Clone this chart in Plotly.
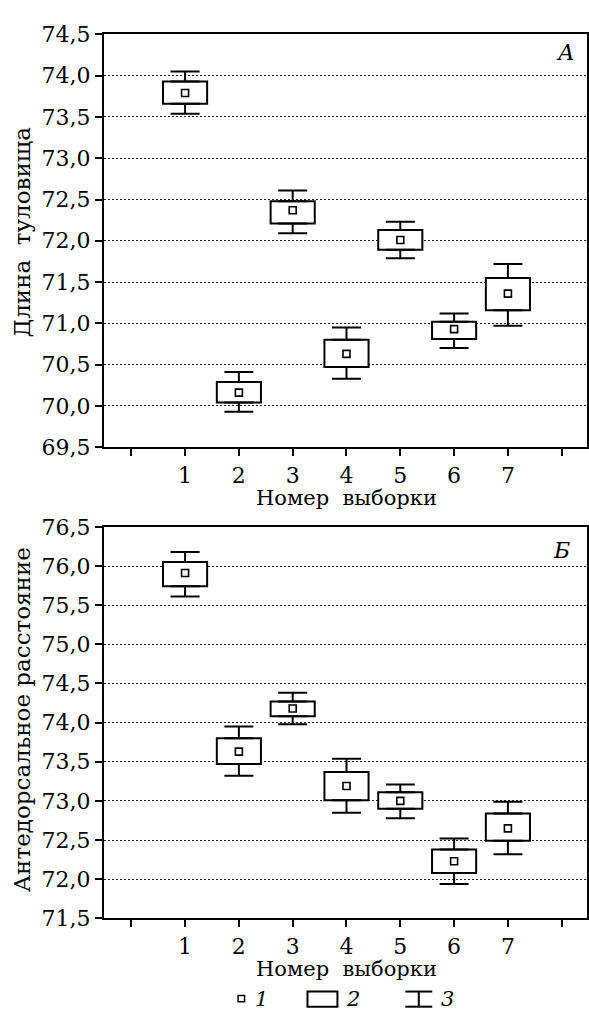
import plotly.graph_objects as go

W, H = 589, 1027

samples = [1, 2, 3, 4, 5, 6, 7]
x_tickvals = [0, 1, 2, 3, 4, 5, 6, 7, 8]
x_ticktext = ["", "1", "2", "3", "4", "5", "6", "7", ""]

# Panel А: Длина туловища
a_mean = [73.79, 70.16, 72.37, 70.63, 72.01, 70.93, 71.36]
a_box_low = [73.66, 70.04, 72.21, 70.47, 71.89, 70.81, 71.16]
a_box_high = [73.93, 70.29, 72.48, 70.80, 72.13, 71.02, 71.55]
a_whisk_low = [73.54, 69.93, 72.09, 70.33, 71.79, 70.70, 70.97]
a_whisk_high = [74.05, 70.41, 72.61, 70.95, 72.23, 71.12, 71.72]

# Panel Б: Антедорсальное расстояние
b_mean = [75.91, 73.63, 74.18, 73.19, 73.00, 72.23, 72.65]
b_box_low = [75.74, 73.47, 74.08, 73.01, 72.90, 72.08, 72.49]
b_box_high = [76.05, 73.80, 74.27, 73.37, 73.11, 72.38, 72.84]
b_whisk_low = [75.61, 73.32, 73.98, 72.85, 72.78, 71.94, 72.32]
b_whisk_high = [76.18, 73.95, 74.38, 73.54, 73.21, 72.52, 72.99]

FONT = "DejaVu Serif"


def px(x):
    return x / W


def py(y):
    return 1 - y / H


fig = go.Figure()

panels = [
    ("x", "y", a_mean, a_box_low, a_box_high, a_whisk_low, a_whisk_high),
    ("x2", "y2", b_mean, b_box_low, b_box_high, b_whisk_low, b_whisk_high),
]
zeros = [0] * len(samples)
for xa, ya, mean, blo, bhi, wlo, whi in panels:
    up = [h - b for h, b in zip(whi, bhi)]
    down = [b - l for b, l in zip(blo, wlo)]
    # upper whiskers
    fig.add_trace(go.Scatter(
        x=samples, y=bhi, mode="markers", marker=dict(size=1, opacity=0),
        error_y=dict(type="data", symmetric=False, array=up, arrayminus=zeros,
                     color="black", thickness=2, width=14.5),
        xaxis=xa, yaxis=ya, showlegend=False, hoverinfo="skip",
    ))
    # lower whiskers
    fig.add_trace(go.Scatter(
        x=samples, y=blo, mode="markers", marker=dict(size=1, opacity=0),
        error_y=dict(type="data", symmetric=False, array=zeros, arrayminus=down,
                     color="black", thickness=2, width=14.5),
        xaxis=xa, yaxis=ya, showlegend=False, hoverinfo="skip",
    ))
    # boxes
    fig.add_trace(go.Bar(
        x=samples, y=[h - l for h, l in zip(bhi, blo)], base=blo, width=0.82,
        marker=dict(color="white", line=dict(color="black", width=2)),
        xaxis=xa, yaxis=ya, showlegend=False, hoverinfo="skip",
    ))
    # means
    fig.add_trace(go.Scatter(
        x=samples, y=mean, mode="markers",
        marker=dict(symbol="square-open", size=7, color="black", line=dict(width=1.6)),
        xaxis=xa, yaxis=ya, showlegend=False, hoverinfo="skip",
    ))

xdom = [px(104), px(588)]
axis_common = dict(
    showline=True, linecolor="black", linewidth=2, mirror=True,
    ticks="outside", ticklen=7, tickwidth=2, tickcolor="black",
    tickfont=dict(family=FONT, size=22, color="black"),
    zeroline=False,
)
xaxis_common = dict(axis_common, range=[-0.51, 8.47], tickvals=x_tickvals,
                    ticktext=x_ticktext, showgrid=False, domain=xdom)
yaxis_common = dict(axis_common, dtick=0.5, tickformat=".1f", showgrid=True,
                    gridcolor="#222", gridwidth=1, griddash="2px,2px")

fig.update_layout(
    width=W, height=H, margin=dict(l=0, r=0, t=0, b=0),
    paper_bgcolor="white", plot_bgcolor="white", separators=", ",
    barmode="overlay",
    xaxis=dict(xaxis_common, anchor="y"),
    yaxis=dict(yaxis_common, range=[69.5, 74.5], tick0=69.5,
               domain=[py(446), py(23)], anchor="x"),
    xaxis2=dict(xaxis_common, anchor="y2"),
    yaxis2=dict(yaxis_common, range=[71.5, 76.5], tick0=71.5,
                domain=[py(929), py(527.7)], anchor="x2"),
)

ann = []


def text(x, y, s, size=22, angle=0, italic=False, xanchor="center"):
    ann.append(dict(
        x=px(x), y=py(y), xref="paper", yref="paper", text=s, showarrow=False,
        textangle=angle, xanchor=xanchor, yanchor="middle",
        font=dict(family=FONT, size=size, color="black",
                  style="italic" if italic else "normal"),
    ))


text(22, 225, "Длина  туловища", size=23, angle=-90)
text(347, 498, "Номер  выборки", size=21)
text(22, 725, "Антедорсальное расстояние", size=23, angle=-90)
text(347, 981, "Номер  выборки", size=21)
text(566, 42, "А", italic=True)
text(562, 552, "Б", italic=True)
text(262, 1012, "1", size=21, italic=True)
text(354, 1012, "2", size=21, italic=True)
text(448, 1012, "3", size=21, italic=True)
fig.update_layout(annotations=ann)

shapes = []


def line(x0, y0, x1, y1, w=2):
    shapes.append(dict(type="line", xref="paper", yref="paper",
                       x0=px(x0), y0=py(y0), x1=px(x1), y1=py(y1),
                       line=dict(color="black", width=w)))


def rect(x0, y0, x1, y1, w=2):
    shapes.append(dict(type="rect", xref="paper", yref="paper",
                       x0=px(x0), y0=py(y0), x1=px(x1), y1=py(y1),
                       line=dict(color="black", width=w), fillcolor="white"))


rect(238.5, 1008, 245, 1014.5, w=1.5)
rect(308, 1004, 338, 1019.5)
line(406, 1004, 433, 1004)
line(406, 1019.5, 433, 1019.5)
line(419.5, 1004, 419.5, 1019.5)
fig.update_layout(shapes=shapes)

fig.write_html("out.html")
